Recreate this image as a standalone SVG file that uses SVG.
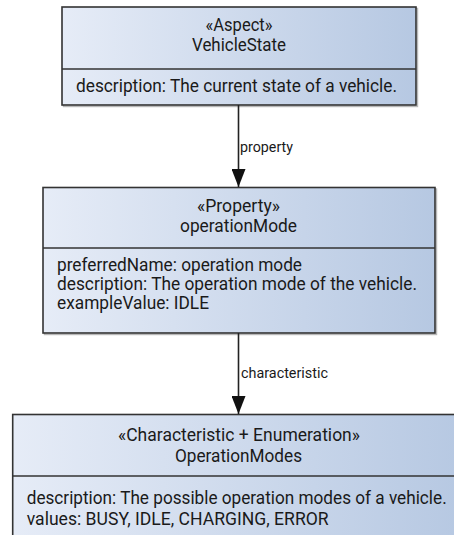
<svg xmlns="http://www.w3.org/2000/svg" width="454" height="535" viewBox="0 0 454 535">
  <defs>
    <linearGradient id="boxFill" x1="0" y1="0" x2="1" y2="0">
      <stop offset="0" stop-color="#e6ecf7"/>
      <stop offset="1" stop-color="#b6c8e2"/>
    </linearGradient>
    <marker id="arrow" viewBox="0 0 18 14" refX="18" refY="7" markerWidth="18" markerHeight="14" markerUnits="userSpaceOnUse" orient="auto">
      <path d="M0,0 L18,7 L0,14 Z" fill="#111"/>
    </marker>
    <style>
      .box { fill: url(#boxFill); stroke: #333; stroke-width: 1.6; }
      .shadow { fill: none; stroke: #9a9a9a; stroke-width: 1.4; opacity: 0.7; }
      .div { stroke: #333; stroke-width: 1.6; }
      .t { font-family: Roboto, "Liberation Sans", sans-serif; font-size: 18px; fill: #1a1a1a; }
      .c { text-anchor: middle; }
      .lbl { font-family: Roboto, "Liberation Sans", sans-serif; font-size: 15px; fill: #1a1a1a; }
      .edge { stroke: #222; stroke-width: 1.6; fill: none; }
    </style>
  </defs>

  <g id="VehicleState">
    <rect class="shadow" x="63.5" y="8.5" width="354" height="98"/>
    <rect class="box" x="62" y="7" width="354" height="98"/>
    <line class="div" x1="62" y1="69" x2="416" y2="69"/>
    <text class="t c" x="239" y="31" textLength="67" lengthAdjust="spacingAndGlyphs">«Aspect»</text>
    <text class="t c" x="239" y="51" textLength="94" lengthAdjust="spacingAndGlyphs">VehicleState</text>
    <text class="t" x="76" y="92" textLength="321" lengthAdjust="spacingAndGlyphs">description: The current state of a vehicle.</text>
  </g>

  <g id="operationMode">
    <rect class="shadow" x="44.5" y="189" width="392" height="145.5"/>
    <rect class="box" x="43" y="187.5" width="392" height="145.5"/>
    <line class="div" x1="43" y1="248" x2="435" y2="248"/>
    <text class="t c" x="238.5" y="212" textLength="83" lengthAdjust="spacingAndGlyphs">«Property»</text>
    <text class="t c" x="238.5" y="232" textLength="117" lengthAdjust="spacingAndGlyphs">operationMode</text>
    <text class="t" x="57" y="271" textLength="245" lengthAdjust="spacingAndGlyphs">preferredName: operation mode</text>
    <text class="t" x="57" y="290" textLength="360" lengthAdjust="spacingAndGlyphs">description: The operation mode of the vehicle.</text>
    <text class="t" x="57" y="309" textLength="152" lengthAdjust="spacingAndGlyphs">exampleValue: IDLE</text>
  </g>

  <g id="OperationModes">
    <rect class="shadow" x="14" y="416" width="452" height="140"/>
    <rect class="box" x="12.7" y="414.5" width="452" height="140"/>
    <line class="div" x1="12.7" y1="476" x2="465" y2="476"/>
    <text class="t c" x="239" y="441" textLength="242" lengthAdjust="spacingAndGlyphs">«Characteristic + Enumeration»</text>
    <text class="t c" x="238.5" y="462" textLength="127" lengthAdjust="spacingAndGlyphs">OperationModes</text>
    <text class="t" x="26.7" y="504" textLength="420" lengthAdjust="spacingAndGlyphs">description: The possible operation modes of a vehicle.</text>
    <text class="t" x="26.7" y="525" textLength="302" lengthAdjust="spacingAndGlyphs">values: BUSY, IDLE, CHARGING, ERROR</text>
  </g>

  <g id="connectors">
    <line class="edge" x1="238.5" y1="105" x2="238.5" y2="187" marker-end="url(#arrow)"/>
    <text class="lbl" x="240" y="152" textLength="53" lengthAdjust="spacingAndGlyphs">property</text>
    <line class="edge" x1="238.5" y1="333" x2="238.5" y2="414" marker-end="url(#arrow)"/>
    <text class="lbl" x="241" y="378" textLength="87" lengthAdjust="spacingAndGlyphs">characteristic</text>
  </g>
</svg>
